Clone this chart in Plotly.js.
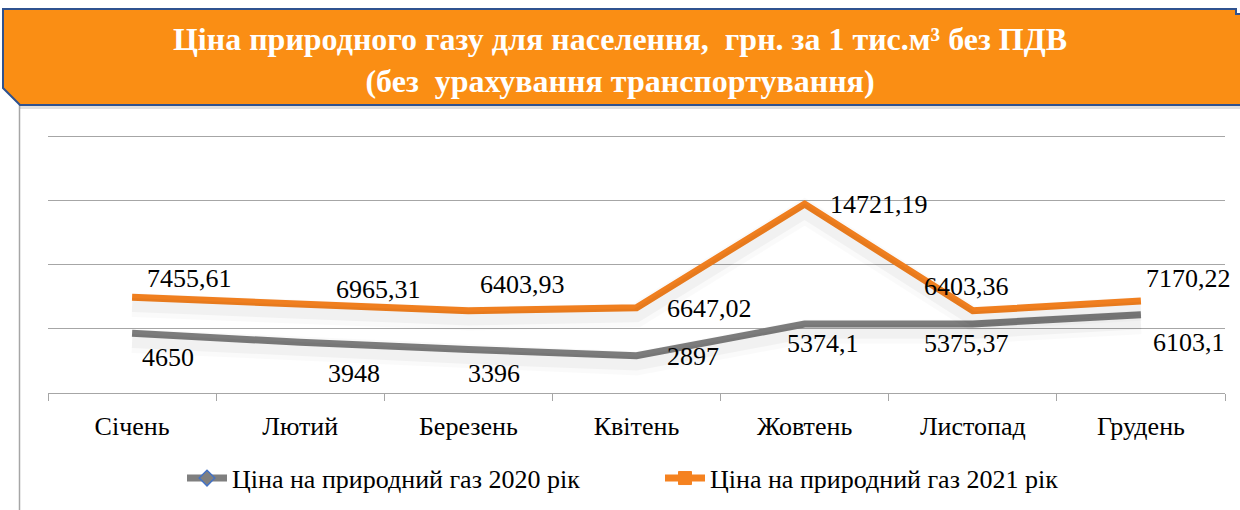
<!DOCTYPE html>
<html><head><meta charset="utf-8">
<script src="https://cdn.plot.ly/plotly-3.0.1.min.js"></script>
<style>html,body{margin:0;padding:0;background:#fff;}#chart{width:1240px;height:510px;}</style>
</head><body><div id="chart"></div>
<script>
const months = ['Січень','Лютий','Березень','Квітень','Жовтень','Листопад','Грудень'];
const price2020 = [4650, 3948, 3396, 2897, 5374.1, 5375.37, 6103.1];
const price2021 = [7455.61, 6965.31, 6403.93, 6647.02, 14721.19, 6403.36, 7170.22];
const name2020 = 'Ціна на природний газ 2020 рік';
const name2021 = 'Ціна на природний газ 2021 рік';
const titleLine1 = 'Ціна природного газу для населення,  грн. за 1 тис.м³ без ПДВ';
const titleLine2 = '(без  урахування транспортування)';

// label offsets (style only)
const shift2021 = [[57,19],[78,14],[54,26],[73,-1],[74,0],[-6,24],[48,22]];
const shift2020 = [[36,-24],[54,-31],[26,-24],[56,-1],[18,-19],[-6,-19],[48,-28]];

const SERIF = 'Liberation Serif';
const fmt = v => String(v).replace('.', ',');

const shadow = (y, w, a) => ({
  x: months, y: y, type: 'scatter', mode: 'lines', yaxis: 'y2',
  line: {color: 'rgba(0,0,0,' + a + ')', width: w}, hoverinfo: 'skip', showlegend: false
});

const traces = [
  shadow(price2021, 24, 0.02), shadow(price2021, 14, 0.035),
  shadow(price2020, 24, 0.02), shadow(price2020, 14, 0.035),
  {x: months, y: price2020, name: name2020, type: 'scatter', mode: 'lines+markers',
   line: {color: '#7F7F7F', width: 7},
   marker: {symbol: 'diamond', size: 12, color: '#7F7F7F', line: {color: '#4472C4', width: 1.5}},
   selectedpoints: [], unselected: {marker: {opacity: 0}}},
  {x: months, y: price2021, name: name2021, type: 'scatter', mode: 'lines+markers',
   line: {color: '#F58220', width: 7},
   marker: {symbol: 'square', size: 13, color: '#F58220', line: {color: '#F58220', width: 1}},
   selectedpoints: [], unselected: {marker: {opacity: 0}}}
];

const annotations = [];
months.forEach((m, i) => {
  annotations.push({x: m, y: price2021[i], text: fmt(price2021[i]), showarrow: false,
    xshift: shift2021[i][0], yshift: shift2021[i][1], font: {family: SERIF, size: 26, color: '#000'}});
  annotations.push({x: m, y: price2020[i], text: fmt(price2020[i]), showarrow: false,
    xshift: shift2020[i][0], yshift: shift2020[i][1], font: {family: SERIF, size: 26, color: '#000'}});
});

// paper mapping: plot x 48..1225, y 135..393
const px = v => (v - 48) / 1177;
const py = v => (393 - v) / 258;

const shapes = [
  {type: 'line', xref: 'paper', yref: 'paper', x0: px(19.5), x1: px(19.5), y0: py(104), y1: py(512),
   line: {color: '#A6A6A6', width: 1.5}, layer: 'below'},
  {type: 'rect', xref: 'paper', yref: 'paper', x0: px(20), x1: px(1242), y0: py(109), y1: py(104),
   fillcolor: 'rgba(0,0,0,0.12)', line: {width: 0}, layer: 'above'},
  {type: 'path', xref: 'paper', yref: 'paper', layer: 'above',
   path: `M ${px(3)} ${py(9)} L ${px(1236)} ${py(9)} L ${px(1236)} ${py(14)} L ${px(1242)} ${py(14)} L ${px(1242)} ${py(105)} L ${px(20)} ${py(105)} L ${px(3)} ${py(88)} Z`,
   fillcolor: '#FA8E14', line: {color: '#2F528F', width: 2}}
];

const layout = {
  width: 1240, height: 510,
  margin: {l: 48, r: 15, t: 135, b: 117, autoexpand: false},
  paper_bgcolor: '#fff', plot_bgcolor: 'rgba(0,0,0,0)',
  font: {family: SERIF, color: '#000'},
  title: {text: '<b>' + titleLine1 + '</b><br><b>' + titleLine2 + '</b>',
    font: {family: SERIF, size: 32, color: '#fff'},
    x: 0.5, xref: 'container', xanchor: 'center',
    y: 1 - 50/510, yref: 'container', yanchor: 'middle'},
  xaxis: {type: 'category', range: [-0.5, 6.5], showgrid: false, zeroline: false,
    showline: true, linecolor: '#A6A6A6', linewidth: 1,
    ticks: 'outside', tickson: 'boundaries', ticklen: 7, tickcolor: '#A6A6A6', tickwidth: 1,
    ticklabelstandoff: 10,
    tickfont: {family: SERIF, size: 26, color: '#000'}, fixedrange: true},
  yaxis: {range: [0, 20100], dtick: 5000, showgrid: true, gridcolor: '#A6A6A6', gridwidth: 1,
    zeroline: false, showticklabels: false, showline: false, fixedrange: true},
  yaxis2: {range: [600, 20700], overlaying: 'y', visible: false, fixedrange: true},
  showlegend: true,
  legend: {orientation: 'h', x: px(660), xanchor: 'center', y: -0.33, yanchor: 'middle',
    entrywidth: 423, entrywidthmode: 'pixels',
    font: {family: SERIF, size: 26, color: '#000'}, itemwidth: 40, traceorder: 'normal'},
  annotations: annotations,
  shapes: shapes
};

Plotly.newPlot('chart', traces, layout, {displayModeBar: false, staticPlot: true});
</script></body></html>
